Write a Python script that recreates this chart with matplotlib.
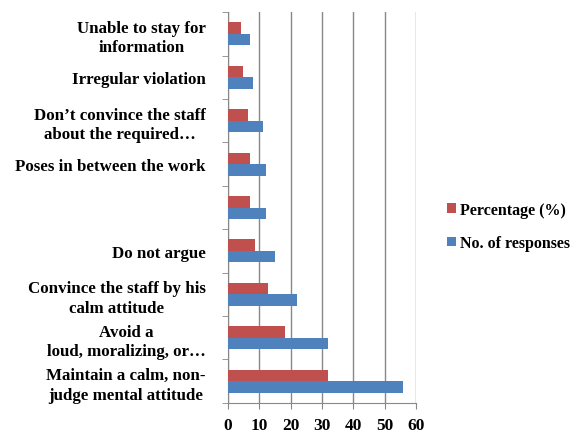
import matplotlib
matplotlib.use("Agg")
import matplotlib.pyplot as plt
import numpy as np

categories = [
    "Maintain a calm, non-\njudge mental attitude",
    "Avoid a\nloud, moralizing, or…",
    "Convince the staff by his\ncalm attitude",
    "Do not argue",
    "",
    "Poses in between the work",
    "Don’t convince the staff\nabout the required…",
    "Irregular violation",
    "Unable to stay for\ninformation",
]
responses = [56, 32, 22, 15, 12, 12, 11, 8, 7]
percentage = [32, 18.3, 12.6, 8.6, 6.9, 6.9, 6.3, 4.6, 4.0]
xticks = [0, 10, 20, 30, 40, 50, 60]

red = "#C0504D"
blue = "#4F81BD"
font = "Liberation Serif"

fig = plt.figure(figsize=(5.85, 4.39), dpi=100)
ax = fig.add_axes([0.39, 0.080, 0.321, 0.890])

y = np.arange(len(categories))
h = 0.265
ax.barh(y - h / 2, responses, height=h, color=blue, label="No. of responses", zorder=3)
ax.barh(y + h / 2, percentage, height=h, color=red, label="Percentage (%)", zorder=3)

ax.set_xlim(0, 60)
ax.set_ylim(-0.5, len(categories) - 0.5)
ax.set_xticks(xticks)
ax.set_xticklabels([str(t) for t in xticks], family=font, fontsize=12.5, fontweight="bold")
ax.set_yticks(y)
ax.set_yticklabels(categories, family=font, fontsize=12.2, fontweight="bold",
                   multialignment="center", linespacing=1.3)
ax.tick_params(axis="y", length=0, pad=16)
ax.set_yticks(np.arange(-0.5, len(categories), 1), minor=True)
ax.tick_params(axis="y", which="minor", length=4, direction="out", color="#888888")
ax.tick_params(axis="x", length=4, direction="out", color="#888888", pad=6)

ax.grid(axis="x", color="#888888", linewidth=1, zorder=0)
for s in ["top", "right"]:
    ax.spines[s].set_visible(False)
for s in ["left", "bottom"]:
    ax.spines[s].set_color("#888888")

handles, labels = ax.get_legend_handles_labels()
leg = fig.legend(handles[::-1], labels[::-1], loc="center left",
                 bbox_to_anchor=(0.74, 0.482), frameon=False,
                 prop={"family": font, "size": 11.5, "weight": "bold"},
                 handlelength=0.55, handleheight=0.55, handletextpad=0.25,
                 labelspacing=1.1)

fig.savefig("out.png", dpi=100)
